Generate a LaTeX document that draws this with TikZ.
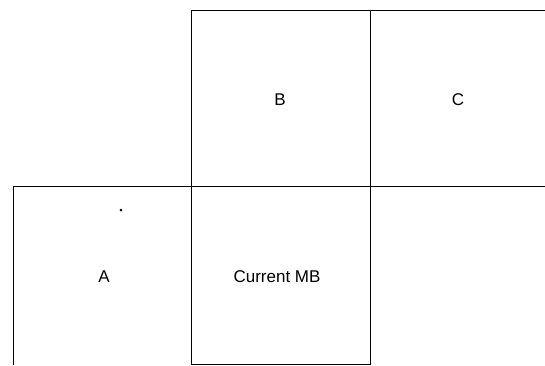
\documentclass[tikz,border=0pt]{standalone}
\usepackage{fontspec}
\setmainfont{Liberation Sans}
\usetikzlibrary{positioning}

\begin{document}
\begin{tikzpicture}[
    x=1pt, y=-1pt,
    grid/.style={draw, line width=0.7pt},
    blocktext/.style={font=\fontsize{17}{20}\selectfont, inner sep=0pt}
]
\useasboundingbox (0,0) rectangle (545,365);

% Grid corners
\coordinate (btl) at (191,10);
\coordinate (btr) at (370,10);
\coordinate (ctr) at (545,10);
\coordinate (atl) at (13,186);
\coordinate (mid) at (545,186);
\coordinate (abl) at (13,365);
\coordinate (cbl) at (191,365);
\coordinate (cbr) at (370,364);
\coordinate (cbm) at (191,364);

% Macroblock grid
\draw[grid] (cbl) -- (btl) -- (ctr);
\draw[grid] (btr) -- (cbr) -- (cbm);
\draw[grid] (abl) -- (atl) -- (mid);

% Block labels
\node[blocktext] (blockB) at (280,100) {B};
\node[blocktext] (blockC) at (458,100) {C};
\node[blocktext] (blockA) at (104,277) {A};
\node[blocktext] (current) at (277,277) {Current MB};

% Marker
\fill (121,210) circle (1.5);

\end{tikzpicture}
\end{document}
